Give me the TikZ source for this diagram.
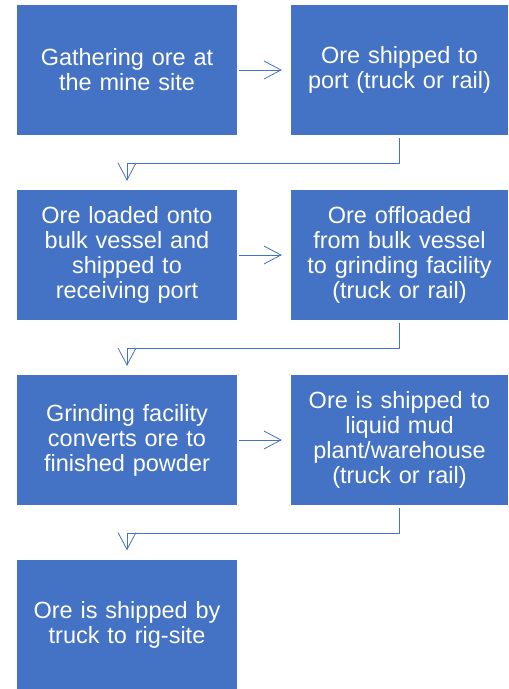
\documentclass[tikz,border=0pt]{standalone}
\usepackage{fontspec}
\setmainfont{Liberation Sans}
\usetikzlibrary{arrows.meta}
\definecolor{boxblue}{HTML}{4472C4}
\begin{document}
\begin{tikzpicture}[x=1pt,y=-1pt,
    every node/.style={inner sep=0},
    stepbox/.style={fill=boxblue, text=white, minimum height=130pt, text width=210pt,
        align=center, font=\fontsize{23.5}{25}\selectfont},
    flow/.style={draw=boxblue, line width=0.8pt,
        -{Straight Barb[length=17pt,width=18pt,line width=0.8pt]}}]
    \useasboundingbox (0,0) rectangle (509,689);
    \node[stepbox, minimum width=220pt] (mine) at (127,70) {Gathering ore at\\the mine site};
    \node[stepbox, minimum width=217pt] (port) at (399.5,70) {Ore shipped to\\port (truck or rail)};
    \node[stepbox, minimum width=220pt] (load) at (127,255) {Ore loaded onto\\bulk vessel and\\shipped to\\receiving port};
    \node[stepbox, minimum width=217pt] (offload) at (399.5,255) {Ore offloaded\\from bulk vessel\\to grinding facility\\(truck or rail)};
    \node[stepbox, minimum width=220pt] (grind) at (127,440) {Grinding facility\\converts ore to\\finished powder};
    \node[stepbox, minimum width=217pt] (plant) at (399.5,440) {Ore is shipped to\\liquid mud\\plant/warehouse\\(truck or rail)};
    \node[stepbox, minimum width=220pt] (rig) at (127,624.5) {Ore is shipped by\\truck to rig-site};

    \draw[flow] ([xshift=2pt]mine.east) -- ([xshift=-9pt]port.west);
    \draw[flow] ([xshift=2pt]load.east) -- ([xshift=-9pt]offload.west);
    \draw[flow] ([xshift=2pt]grind.east) -- ([xshift=-9pt]plant.west);
    \draw[flow] ([yshift=-3pt]port.south) -- ++(0,25) -| ([yshift=9pt]load.north);
    \draw[flow] ([yshift=-3pt]offload.south) -- ++(0,25) -| ([yshift=9pt]grind.north);
    \draw[flow] ([yshift=-3pt]plant.south) -- ++(0,25) -| ([yshift=9pt]rig.north);
\end{tikzpicture}
\end{document}
